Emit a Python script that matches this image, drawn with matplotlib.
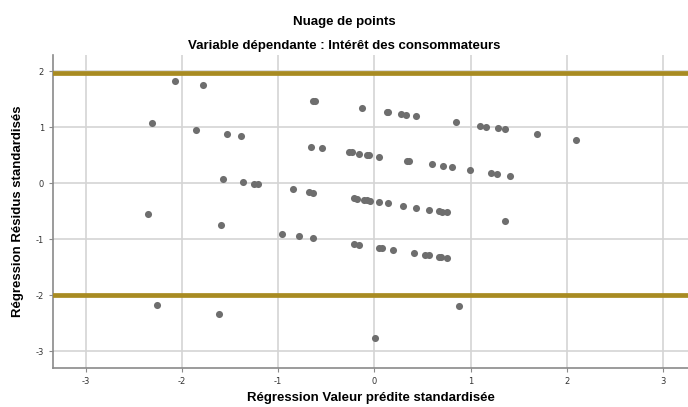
import matplotlib
matplotlib.use("Agg")
import matplotlib.pyplot as plt

plt.rcParams["axes.unicode_minus"] = False

# valeur predite standardisee / residu standardise
pred = [-2.075, -1.778, -2.31, -1.854, -1.535, -1.386, -0.64, -0.62, -0.659, -0.548,
        -0.265, -0.23, -0.158, -0.081, -0.054, 0.05, 0.34, 0.358, 0.604, 0.711,
        0.805, 0.995, 1.21, 1.279, 1.414,
        -0.13, 0.127, 0.147, 0.278, 0.327, 0.434, 0.846, 1.103, 1.165, 1.286, 1.355,
        1.69, 2.1,
        -1.57, -1.362, -1.248, -1.207, -0.85, -0.677, -0.636, -0.21, -0.185,
        -0.106, -0.075, -0.04, 0.047, 0.143, 0.303, 0.434, 0.563, 0.667, 0.708, 0.756,
        1.358, -2.349, -1.594,
        -0.957, -0.784, -0.642, -0.21, -0.158, 0.047, 0.078, 0.189, 0.413, 0.524, 0.566,
        0.667, 0.69, 0.753,
        -2.257, -1.617, 0.004, 0.877]
resid = [1.83, 1.755, 1.077, 0.957, 0.88, 0.84, 1.464, 1.464, 0.654, 0.625,
         0.553, 0.553, 0.529, 0.511, 0.505, 0.475, 0.404, 0.404, 0.339, 0.309,
         0.286, 0.238, 0.184, 0.166, 0.13,
         1.339, 1.273, 1.273, 1.238, 1.225, 1.196, 1.089, 1.023, 1.005, 0.98, 0.964,
         0.875, 0.773,
         0.071, 0.018, -0.006, -0.018, -0.107, -0.155, -0.167, -0.268, -0.275,
         -0.298, -0.304, -0.31, -0.334, -0.357, -0.4, -0.435, -0.471, -0.495, -0.507, -0.518,
         -0.673, -0.548, -0.739,
         -0.9, -0.941, -0.982, -1.09, -1.107, -1.149, -1.155, -1.191, -1.25, -1.28, -1.286,
         -1.31, -1.316, -1.334,
         -2.175, -2.343, -2.765, -2.186]
ref_lines = [1.97, -2]
ticks = [-3, -2, -1, 0, 1, 2, 3]

font = ["Liberation Sans", "DejaVu Sans"]

fig = plt.figure(figsize=(6.88, 4.07), dpi=100)
ax = fig.add_axes([0.077, 0.097, 0.923, 0.768])

ax.scatter(pred, resid, s=26, color="#6e6e6e", zorder=3, linewidths=0)
for r in ref_lines:
    ax.axhline(r, color="#a88b22", lw=3.4, zorder=4)

ax.set_xlim(-3.34, 3.26)
ax.set_ylim(-3.29, 2.29)
ax.set_xticks(ticks)
ax.set_yticks(ticks[:-1])
ax.grid(True, color="#d4d4d4", lw=1.2, zorder=0)
ax.set_axisbelow(True)
for s in ["top", "right"]:
    ax.spines[s].set_visible(False)
for s in ["left", "bottom"]:
    ax.spines[s].set_color("#8a8a8a")
    ax.spines[s].set_linewidth(1.2)
ax.tick_params(length=3, width=0.8, color="#8a8a8a", labelsize=6, labelcolor="#333333")

ax.set_xlabel("Régression Valeur prédite standardisée", fontsize=9.5, fontweight="bold",
              family=font, labelpad=5)
ax.set_ylabel("Régression Résidus standardisés", fontsize=9.5, fontweight="bold",
              family=font, labelpad=8)
fig.text(0.5, 0.946, "Nuage de points", ha="center", va="center", fontsize=9.5,
         fontweight="bold", family=font)
fig.text(0.5, 0.887, "Variable dépendante : Intérêt des consommateurs", ha="center",
         va="center", fontsize=9.5, fontweight="bold", family=font)

fig.savefig("out.png", dpi=100)
